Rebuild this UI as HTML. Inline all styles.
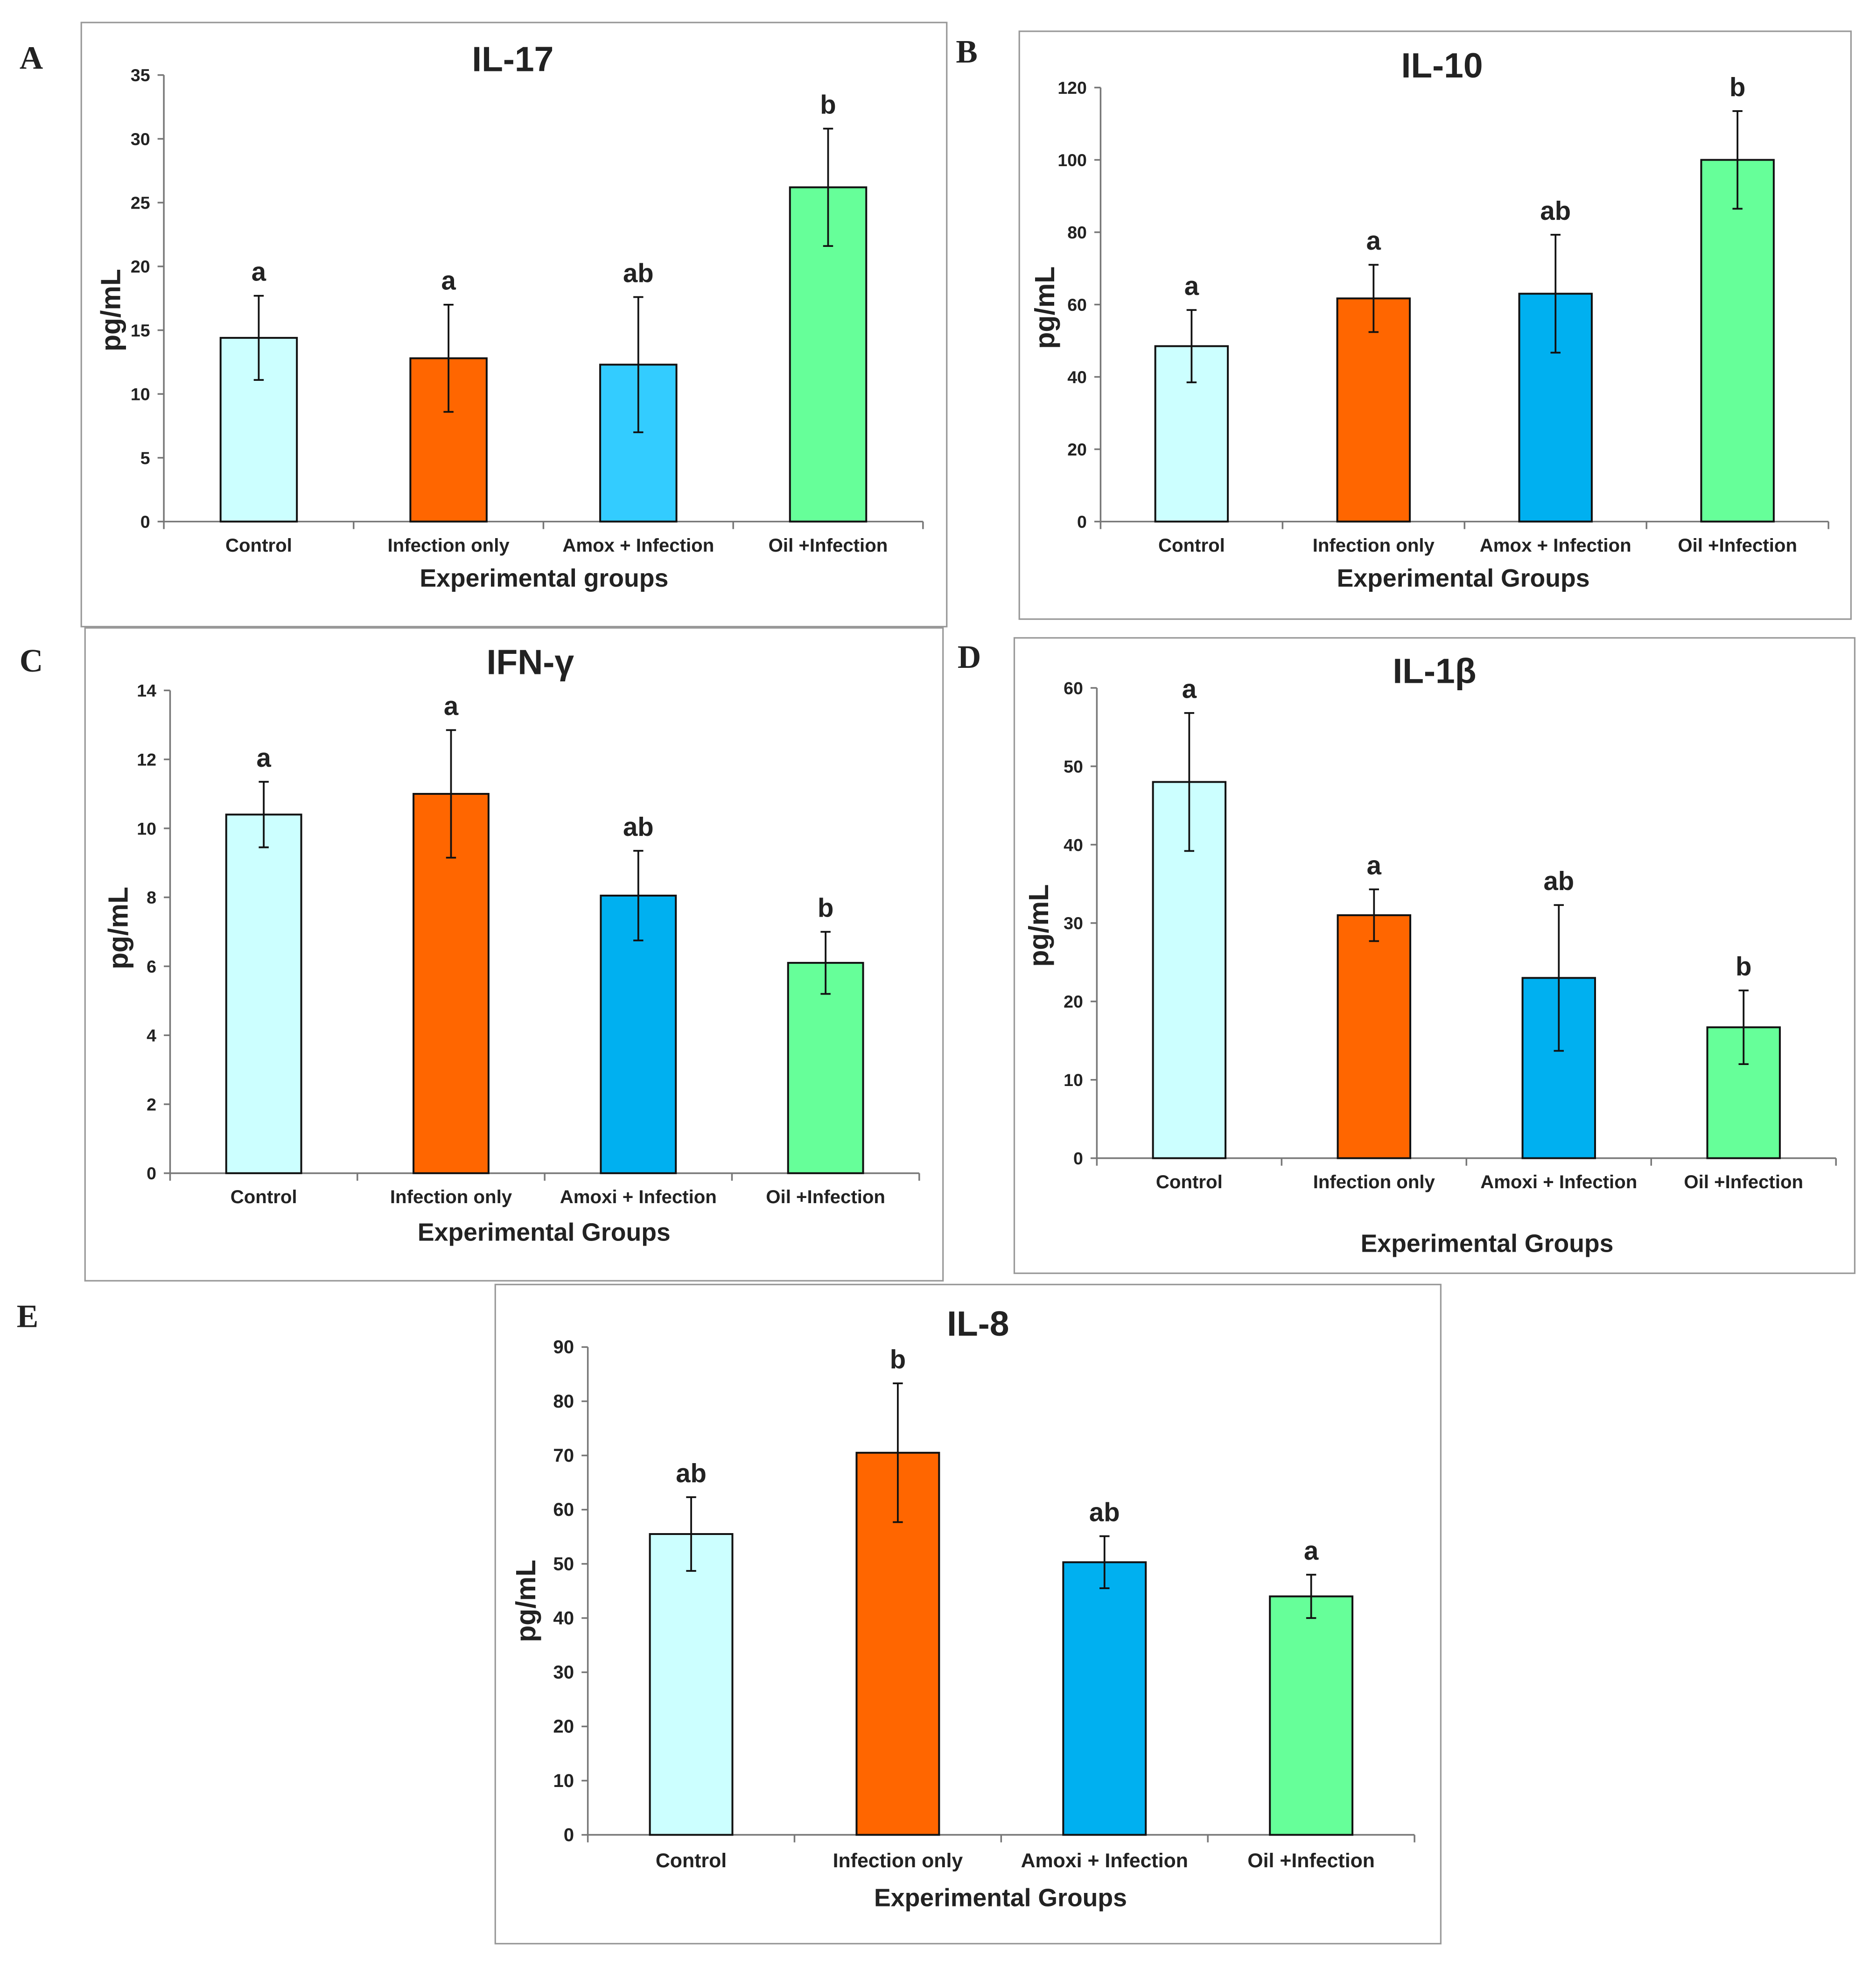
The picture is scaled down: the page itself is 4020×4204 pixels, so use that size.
<!DOCTYPE html>
<html><head><meta charset="utf-8"><style>
html,body{margin:0;padding:0;background:#fff;}
svg{display:block;}
text{font-family:"Liberation Sans",Arial,sans-serif;font-weight:bold;fill:#222;}
</style></head><body>
<svg id="fig" width="4020" height="4204" viewBox="0 0 1500 1568.66" preserveAspectRatio="none" xmlns="http://www.w3.org/2000/svg"></svg>
<script>
// ---- data ----
const catsA = ["Control","Infection only","Amox + Infection","Oil +Infection"];
const valsA = [14.4, 12.8, 12.3, 26.2];
const errsA = [3.3, 4.2, 5.3, 4.6];
const letA = ["a","a","ab","b"];
const ticksA = [0,5,10,15,20,25,30,35];

const catsB = ["Control","Infection only","Amox + Infection","Oil +Infection"];
const valsB = [48.5, 61.7, 63, 100];
const errsB = [10, 9.3, 16.3, 13.5];
const letB = ["a","a","ab","b"];
const ticksB = [0,20,40,60,80,100,120];

const catsC = ["Control","Infection only","Amoxi + Infection","Oil +Infection"];
const valsC = [10.4, 11.0, 8.05, 6.1];
const errsC = [0.95, 1.85, 1.3, 0.9];
const letC = ["a","a","ab","b"];
const ticksC = [0,2,4,6,8,10,12,14];

const catsD = ["Control","Infection only","Amoxi + Infection","Oil +Infection"];
const valsD = [48, 31, 23, 16.7];
const errsD = [8.8, 3.3, 9.3, 4.7];
const letD = ["a","a","ab","b"];
const ticksD = [0,10,20,30,40,50,60];

const catsE = ["Control","Infection only","Amoxi + Infection","Oil +Infection"];
const valsE = [55.5, 70.5, 50.3, 44];
const errsE = [6.8, 12.8, 4.8, 4];
const letE = ["ab","b","ab","a"];
const ticksE = [0,10,20,30,40,50,60,70,80,90];

const NS="http://www.w3.org/2000/svg";
const svg=document.getElementById('fig');
function mk(tag,attrs,parent){const e=document.createElementNS(NS,tag);for(const k in attrs)e.setAttribute(k,attrs[k]);(parent||svg).appendChild(e);return e;}
function txt(s,attrs,parent){const e=mk('text',attrs,parent);e.textContent=s;return e;}

function panel(cfg){
  const g=mk('g',{});
  
  
  const b=mk('rect',{x:cfg.box[0],y:cfg.box[1],width:cfg.box[2]-cfg.box[0],height:cfg.box[3]-cfg.box[1],fill:'none',stroke:'#999','stroke-width':1.2},g);
  
  
  const pl=txt(cfg.letter,{x:cfg.lp[0],y:cfg.lp[1],'font-size':26,style:'font-family:"Liberation Serif",serif;font-weight:bold','text-anchor':'middle',fill:'#000'},g);
  
  
  const ymax=cfg.ticks[cfg.ticks.length-1];
  const y=v=>cfg.y0-(cfg.y0-cfg.yt)*v/ymax;
  const n=cfg.cats.length, step=(cfg.xr-cfg.xl)/n;
  const cx=i=>cfg.xl+step*(i+0.5);
  const ya=mk('line',{x1:cfg.xl,y1:cfg.yt,x2:cfg.xl,y2:cfg.y0,stroke:'#777','stroke-width':1.3},g);
  
  
  const xa=mk('line',{x1:cfg.xl,y1:cfg.y0,x2:cfg.xr,y2:cfg.y0,stroke:'#777','stroke-width':1.3},g);
  
  
  cfg.ticks.forEach(t=>{
    mk('line',{x1:cfg.xl-5,y1:y(t),x2:cfg.xl,y2:y(t),stroke:'#777','stroke-width':1.3},g);
    const tl=txt(String(t),{x:cfg.xl-11,y:y(t)+5,'font-size':cfg.fs,'text-anchor':'end'},g);
    
    
  });
  for(let i=0;i<=n;i++) mk('line',{x1:cfg.xl+step*i,y1:cfg.y0,x2:cfg.xl+step*i,y2:cfg.y0+6,stroke:'#777','stroke-width':1.3},g);
  cfg.vals.forEach((v,i)=>{
    const r=mk('rect',{x:cx(i)-cfg.bw/2,y:y(v),width:cfg.bw,height:cfg.y0-y(v),fill:cfg.colors[i],stroke:'#111','stroke-width':1.5},g);
    
    
    const e=cfg.errs[i], hi=y(v+e), lo=y(v-e);
    const eb=mk('path',{d:`M${cx(i)},${hi}V${lo}M${cx(i)-4},${hi}H${cx(i)+4}M${cx(i)-4},${lo}H${cx(i)+4}`,stroke:'#111','stroke-width':1.4,fill:'none'},g);
    
    
    const sl=txt(cfg.lets[i],{x:cx(i),y:hi-12,'font-size':21,'text-anchor':'middle'},g);
    
    
    const cl=txt(cfg.cats[i],{x:cx(i),y:cfg.y0+cfg.catdy,'font-size':cfg.cfs,'text-anchor':'middle'},g);
    
    
  });
  const ti=txt(cfg.title,{x:cfg.tp[0],y:cfg.tp[1],'font-size':28,'text-anchor':'middle',fill:'#111'},g);
  
  
  const xt=txt(cfg.xt,{x:cfg.xtp[0],y:cfg.xtp[1],'font-size':20,'text-anchor':'middle'},g);
  
  
  const yl=txt('pg/mL',{x:0,y:0,'font-size':22,'text-anchor':'middle',transform:`translate(${cfg.ylx},${cfg.yly}) rotate(-90)`},g);
  
  
}
const C1=["#ccffff","#ff6600","#33ccff","#66ff99"], C2=["#ccffff","#ff6600","#00b0f0","#66ff99"];
panel({id:'il17',letter:'A',lp:[25,55],box:[65,18,757,501],xl:131,xr:738,y0:417,yt:60,ticks:ticksA,cats:catsA,vals:valsA,errs:errsA,lets:letA,colors:C1,bw:61,fs:14,cfs:15,catdy:24,title:'IL-17',tp:[410,57],xt:'Experimental groups',xtp:[435,469],ylx:96,yly:248});
panel({id:'il10',letter:'B',lp:[773,50],box:[815,25,1480,495],xl:880,xr:1462,y0:417,yt:70,ticks:ticksB,cats:catsB,vals:valsB,errs:errsB,lets:letB,colors:C2,bw:58,fs:14,cfs:15,catdy:24,title:'IL-10',tp:[1153,62],xt:'Experimental Groups',xtp:[1170,469],ylx:843,yly:246});
panel({id:'ifng',letter:'C',lp:[25,537],box:[68,502,754,1024],xl:136,xr:735,y0:938,yt:552,ticks:ticksC,cats:catsC,vals:valsC,errs:errsC,lets:letC,colors:C2,bw:60,fs:14,cfs:15,catdy:24,title:'IFN-γ',tp:[424,539],xt:'Experimental Groups',xtp:[435,992],ylx:102,yly:742});
panel({id:'il1b',letter:'D',lp:[775,534],box:[811,510,1483,1018],xl:877,xr:1468,y0:926,yt:550,ticks:ticksD,cats:catsD,vals:valsD,errs:errsD,lets:letD,colors:C2,bw:58,fs:14,cfs:15,catdy:24,title:'IL-1β',tp:[1147,546],xt:'Experimental Groups',xtp:[1189,1001],ylx:838,yly:740});
panel({id:'il8',letter:'E',lp:[22,1061],box:[396,1027,1152,1554],xl:470,xr:1131,y0:1467,yt:1077,ticks:ticksE,cats:catsE,vals:valsE,errs:errsE,lets:letE,colors:C2,bw:66,fs:15,cfs:16,catdy:26,title:'IL-8',tp:[782,1068],xt:'Experimental Groups',xtp:[800,1524],ylx:428,yly:1280});
</script>
</body></html>
